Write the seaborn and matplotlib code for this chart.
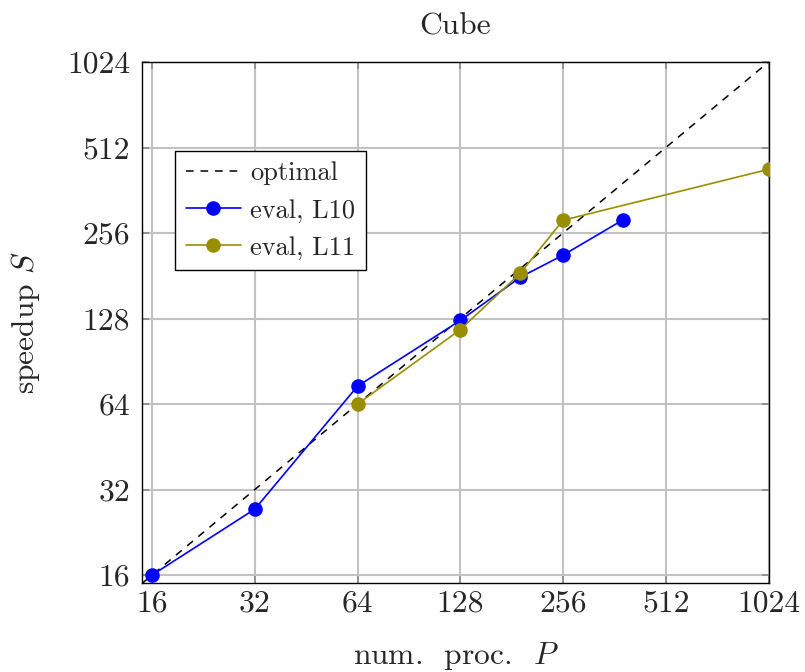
import matplotlib
matplotlib.use("Agg")
import matplotlib.pyplot as plt
import seaborn as sns
import pandas as pd
from matplotlib.ticker import FixedLocator, FixedFormatter, NullLocator

# ---- data ----
tick_values = [16, 32, 64, 128, 256, 512, 1024]
tick_labels = ["16", "32", "64", "128", "256", "512", "1024"]

opt_x = [15, 1024]
opt_y = [15, 1024]

l10_procs = [16, 32, 64, 128, 192, 256, 384]
l10_speedup = [16, 27.3, 74, 126, 179, 214, 285]

l11_procs = [64, 128, 192, 256, 1024]
l11_speedup = [64, 117, 185, 284, 429]

title = "Cube"
xlabel = "num.  proc.  $P$"
ylabel = "speedup $S$"

# ---- style ----
sns.set_style("white")
plt.rcParams["font.family"] = ["cmr10", "DejaVu Serif"]
plt.rcParams["mathtext.fontset"] = "cm"
plt.rcParams["axes.formatter.use_mathtext"] = True

FS = 22.7
LFS = 19

fig = plt.figure(figsize=(8.05, 6.72), dpi=100)
ax = fig.add_axes([0.177, 0.1324, 0.7777, 0.7753])

df_opt = pd.DataFrame({"x": opt_x, "y": opt_y})
df10 = pd.DataFrame({"x": l10_procs, "y": l10_speedup})
df11 = pd.DataFrame({"x": l11_procs, "y": l11_speedup})

sns.lineplot(data=df_opt, x="x", y="y", ax=ax, color="black", linewidth=1.1,
             dashes=False, label="optimal", zorder=3)
ax.lines[-1].set_dashes((5, 4.5))
sns.lineplot(data=df10, x="x", y="y", ax=ax, color="#0000ff", linewidth=1.2,
             marker="o", markersize=10.5, markeredgewidth=0, label="eval, L10",
             zorder=4)
sns.lineplot(data=df11, x="x", y="y", ax=ax, color="#998e00", linewidth=1.2,
             marker="o", markersize=10.5, markeredgewidth=0, label="eval, L11",
             zorder=5)

ax.set_xscale("log", base=2)
ax.set_yscale("log", base=2)
ax.set_xlim(15, 1024)
ax.set_ylim(15, 1024)

for axis in (ax.xaxis, ax.yaxis):
    axis.set_major_locator(FixedLocator(tick_values))
    axis.set_major_formatter(FixedFormatter(tick_labels))
    axis.set_minor_locator(NullLocator())

ax.grid(True, color="#c2c2c2", linewidth=1.5, zorder=0)
ax.set_axisbelow(True)
ax.tick_params(axis="both", which="major", direction="in", length=5, width=1.2,
               color="#8a8a8a", labelsize=FS, top=True, right=True,
               bottom=True, left=True)
ax.tick_params(axis="x", pad=5)
ax.tick_params(axis="y", pad=9)

for s in ax.spines.values():
    s.set_color("black")
    s.set_linewidth(1.0)
    s.set_visible(True)

ax.set_title(title, fontsize=FS, pad=20)
ax.set_xlabel(xlabel, fontsize=FS, labelpad=16)
ax.set_ylabel(ylabel, fontsize=FS, labelpad=18)

leg = ax.legend(loc="upper left", bbox_to_anchor=(0.052, 0.829), borderaxespad=0,
                fontsize=LFS, frameon=True, fancybox=False, framealpha=1,
                edgecolor="black", handlelength=2.1, handletextpad=0.35,
                labelspacing=0.5, borderpad=0.4)
leg.get_frame().set_linewidth(1.0)

fig.savefig("out.png", dpi=100)
